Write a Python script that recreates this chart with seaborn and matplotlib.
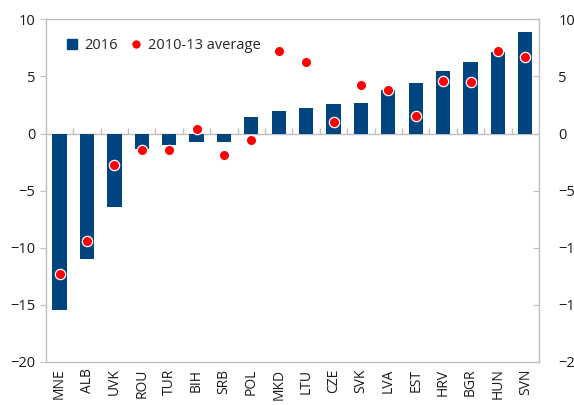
import numpy as np
import pandas as pd
import matplotlib
matplotlib.use("Agg")
import matplotlib.pyplot as plt
import seaborn as sns
from matplotlib.lines import Line2D

# =========================
# DATA
# =========================
countries = ["MNE", "ALB", "UVK", "ROU", "TUR", "BIH", "SRB", "POL", "MKD",
             "LTU", "CZE", "SVK", "LVA", "EST", "HRV", "BGR", "HUN", "SVN"]
val_2016 = [-15.5, -11.0, -6.4, -1.4, -1.0, -0.75, -0.7, 1.45, 1.95,
            2.2, 2.6, 2.7, 3.8, 4.4, 5.5, 6.25, 7.15, 8.9]
avg_2010_13 = [-12.3, -9.4, -2.75, -1.45, -1.45, 0.37, -1.85, -0.55, 7.2,
               6.3, 1.0, 4.25, 3.8, 1.5, 4.6, 4.5, 7.25, 6.7]
y_ticks = [10, 5, 0, -5, -10, -15, -20]

df = pd.DataFrame({"country": countries, "v2016": val_2016, "avg": avg_2010_13})

bar_color = "#004480"
dot_color = "#ff0000"
grid_gray = "#bfbfbf"
text_color = "#1a1a1a"

sns.set_style("white")
plt.rcParams["font.family"] = ["Open Sans", "DejaVu Sans"]

fig, ax = plt.subplots(figsize=(5.74, 4.05), dpi=100)
fig.subplots_adjust(left=0.080, right=0.939, top=0.952, bottom=0.107)

# bars
sns.barplot(data=df, x="country", y="v2016", color=bar_color, saturation=1,
            width=0.52, edgecolor="none", linewidth=0, ax=ax, zorder=2)

# dots
sns.scatterplot(data=df, x="country", y="avg", color=dot_color, s=55,
                edgecolor="white", linewidth=0.9, ax=ax, zorder=3)

ax.set_xlim(-0.5, len(countries) - 0.5)
ax.set_ylim(-20, 10)
ax.set_yticks(y_ticks)
ax.set_xlabel("")
ax.set_ylabel("")

# zero line with small category separators
ax.axhline(0, color=grid_gray, lw=1, zorder=1)
ax.vlines(np.arange(0.5, len(countries) - 0.5, 1), 0, 0.5, color=grid_gray, lw=1, zorder=1)

for s in ax.spines.values():
    s.set_color(grid_gray)
    s.set_linewidth(1)

ax.tick_params(axis="x", length=0, labelsize=10, rotation=90, pad=5, colors=text_color)
ax.tick_params(axis="y", direction="out", length=4, color=grid_gray, labelsize=10.5,
               labelcolor=text_color)

# right axis
ax2 = ax.twinx()
ax2.set_ylim(-20, 10)
ax2.set_yticks(y_ticks)
ax2.tick_params(axis="y", direction="in", length=4, color=grid_gray, labelsize=10.5,
                labelcolor=text_color, pad=14)
for s in ax2.spines.values():
    s.set_visible(False)

# legend
handles = [
    Line2D([], [], marker="s", color=bar_color, linestyle="", markersize=7.5, label="2016"),
    Line2D([], [], marker="o", color=dot_color, linestyle="", markersize=5, label="2010-13 average"),
]
ax.legend(handles=handles, loc="upper left", bbox_to_anchor=(0.012, 0.985), ncol=2,
          frameon=False, fontsize=10.5, handletextpad=0.3, columnspacing=0.8,
          handlelength=1.0)

fig.savefig("out.png", dpi=100)
